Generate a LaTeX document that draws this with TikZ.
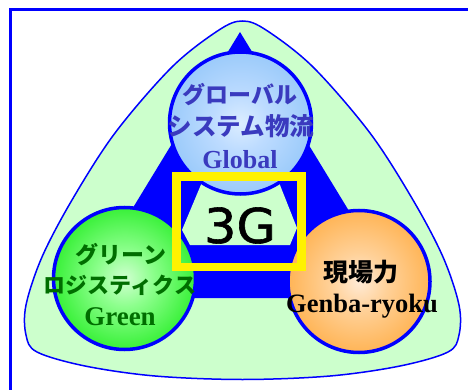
\documentclass[tikz,border=0pt]{standalone}
\usepackage{fontspec}
\setmainfont{Liberation Serif}
\newfontfamily\jp{Noto Sans CJK JP}
\newfontfamily\gfont[FakeBold=1.2]{DejaVu Sans}
\definecolor{palegreen}{RGB}{204,255,204}
\definecolor{topink}{RGB}{58,58,190}
\definecolor{greenink}{RGB}{0,110,0}
\pgfdeclareradialshading{blueball}{\pgfpoint{0bp}{0bp}}{rgb(0bp)=(0.86,0.93,1); rgb(10bp)=(0.74,0.86,1); rgb(26bp)=(0.6,0.79,0.98); rgb(50bp)=(0.56,0.76,0.97)}
\pgfdeclareradialshading{greenball}{\pgfpoint{0bp}{0bp}}{rgb(0bp)=(0.82,1,0.82); rgb(10bp)=(0.55,1,0.55); rgb(26bp)=(0.2,0.94,0.2); rgb(50bp)=(0.12,0.9,0.12)}
\pgfdeclareradialshading{orangeball}{\pgfpoint{0bp}{0bp}}{rgb(0bp)=(1,0.92,0.84); rgb(10bp)=(1,0.82,0.6); rgb(26bp)=(1,0.7,0.32); rgb(50bp)=(1,0.65,0.24)}
\tikzset{
  ball/.style={circle, draw=blue, line width=3.5pt, minimum size=142pt, inner sep=0pt},
  jptext/.style={inner sep=0pt, anchor=center},
  latext/.style={inner sep=0pt, anchor=base},
}
\begin{document}
\begin{tikzpicture}[x=1pt,y=-1pt]
\useasboundingbox (0,0) rectangle (468,390);
% frame
\draw[blue, line width=3pt] (10.5,395) -- (10.5,10) -- (475,10);
% outer rounded shape
\draw[blue, line width=1.5pt, fill=palegreen] plot[smooth cycle, tension=0.55] coordinates {
 (242.5,21) (266,30) (313,67) (370,133) (413,200) (443,257) (459,305) (459,335) (448,352) (400,366) (330,376) (242.5,379.5)
 (155,376) (85,366) (37,352) (26,335) (26,305) (42,257) (72,200) (115,133) (172,67) (219,30)};
% blue triangle band
\fill[blue] (240,32) -- (78,298) -- (402,298) -- cycle;
\fill[palegreen] (182,230) -- (190,245) -- (290,245) -- (297,228) -- (276,175) -- (205,175) -- cycle;
% balls
\node[ball, shading=blueball] (global) at (240.5,123) {};
\node[ball, shading=greenball] (green) at (124.5,278.5) {};
\node[ball, shading=orangeball] (genba) at (359,281.5) {};
% yellow box
\draw[yellow, line width=8.5pt] (176.5,176.7) rectangle (301.5,266.8);
\node[font=\gfont\fontsize{48}{48}\selectfont, inner sep=0pt, xscale=1.06] (threeg) at (240,225.5) {3G};
% texts
\node[jptext, text=topink, font=\jp\bfseries\fontsize{23}{23}\selectfont] (t1) at (240,95) {グローバル};
\node[jptext, text=topink, font=\jp\bfseries\fontsize{24.5}{24.5}\selectfont] (t2) at (241,126) {システム物流};
\node[latext, text=topink, font=\bfseries\fontsize{26}{26}\selectfont] (t3) at (240,168) {Global};
\node[jptext, text=greenink, font=\jp\bfseries\fontsize{23}{23}\selectfont] (g1) at (121,255) {グリーン};
\node[jptext, text=greenink, font=\jp\bfseries\fontsize{22}{22}\selectfont] (g2) at (120,285) {ロジスティクス};
\node[latext, text=greenink, font=\bfseries\fontsize{27}{27}\selectfont] (g3) at (120,325) {Green};
\node[jptext, text=black, font=\jp\bfseries\fontsize{25}{25}\selectfont] (o1) at (361,272.5) {現場力};
\node[latext, text=black, font=\bfseries\fontsize{26.5}{26.5}\selectfont] (o2) at (362,312) {Genba-ryoku};
\end{tikzpicture}
\end{document}
